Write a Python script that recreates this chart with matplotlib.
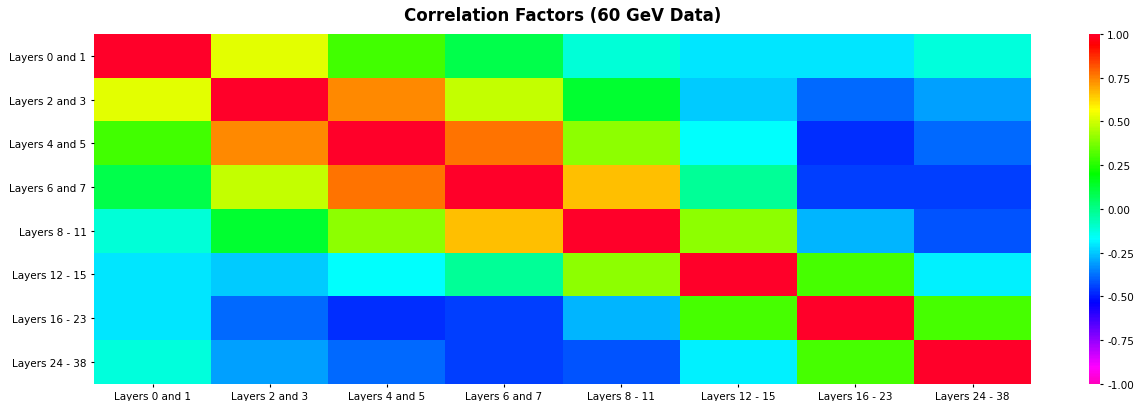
import numpy as np
import matplotlib.pyplot as plt

labels = ["Layers 0 and 1", "Layers 2 and 3", "Layers 4 and 5", "Layers 6 and 7",
          "Layers 8 - 11", "Layers 12 - 15", "Layers 16 - 23", "Layers 24 - 38"]

# correlation matrix
row0 = [1.00, 0.53, 0.29, 0.09, -0.11, -0.21, -0.21, -0.12]
row1 = [0.53, 1.00, 0.74, 0.48, 0.13, -0.25, -0.39, -0.31]
row2 = [0.29, 0.74, 1.00, 0.77, 0.40, -0.17, -0.47, -0.39]
row3 = [0.09, 0.48, 0.77, 1.00, 0.66, -0.02, -0.45, -0.45]
row4 = [-0.11, 0.13, 0.40, 0.66, 1.00, 0.40, -0.28, -0.42]
row5 = [-0.21, -0.25, -0.17, -0.02, 0.40, 1.00, 0.30, -0.19]
row6 = [-0.21, -0.39, -0.47, -0.45, -0.28, 0.30, 1.00, 0.30]
row7 = [-0.12, -0.31, -0.39, -0.45, -0.42, -0.19, 0.30, 1.00]

corr = np.array([row0, row1, row2, row3, row4, row5, row6, row7])

fig = plt.figure(figsize=(11.47, 4.02), dpi=100)
ax = fig.add_axes([0.082, 0.043, 0.817, 0.870])
cax = fig.add_axes([0.949, 0.043, 0.0096, 0.870])

mesh = ax.pcolormesh(corr, cmap="gist_rainbow_r", vmin=-1, vmax=1)
ax.set_xlim(0, len(labels))
ax.set_ylim(len(labels), 0)
ax.set_xticks(np.arange(len(labels)) + 0.5)
ax.set_yticks(np.arange(len(labels)) + 0.5)
ax.set_xticklabels(labels, fontsize=7.5)
ax.set_yticklabels(labels, fontsize=7.5)
ax.tick_params(length=2.5, pad=3)
for s in ax.spines.values():
    s.set_visible(False)
ax.set_title("Correlation Factors (60 GeV Data)", fontsize=12, fontweight="bold", pad=10)

cb = fig.colorbar(mesh, cax=cax)
cb.set_ticks([-1, -0.75, -0.5, -0.25, 0, 0.25, 0.5, 0.75, 1])
cb.ax.set_yticklabels(["%.2f" % t for t in cb.get_ticks()])
cb.ax.tick_params(labelsize=7.5, length=2.5, pad=3)
cb.outline.set_visible(False)

plt.savefig("out.png")
plt.close()
